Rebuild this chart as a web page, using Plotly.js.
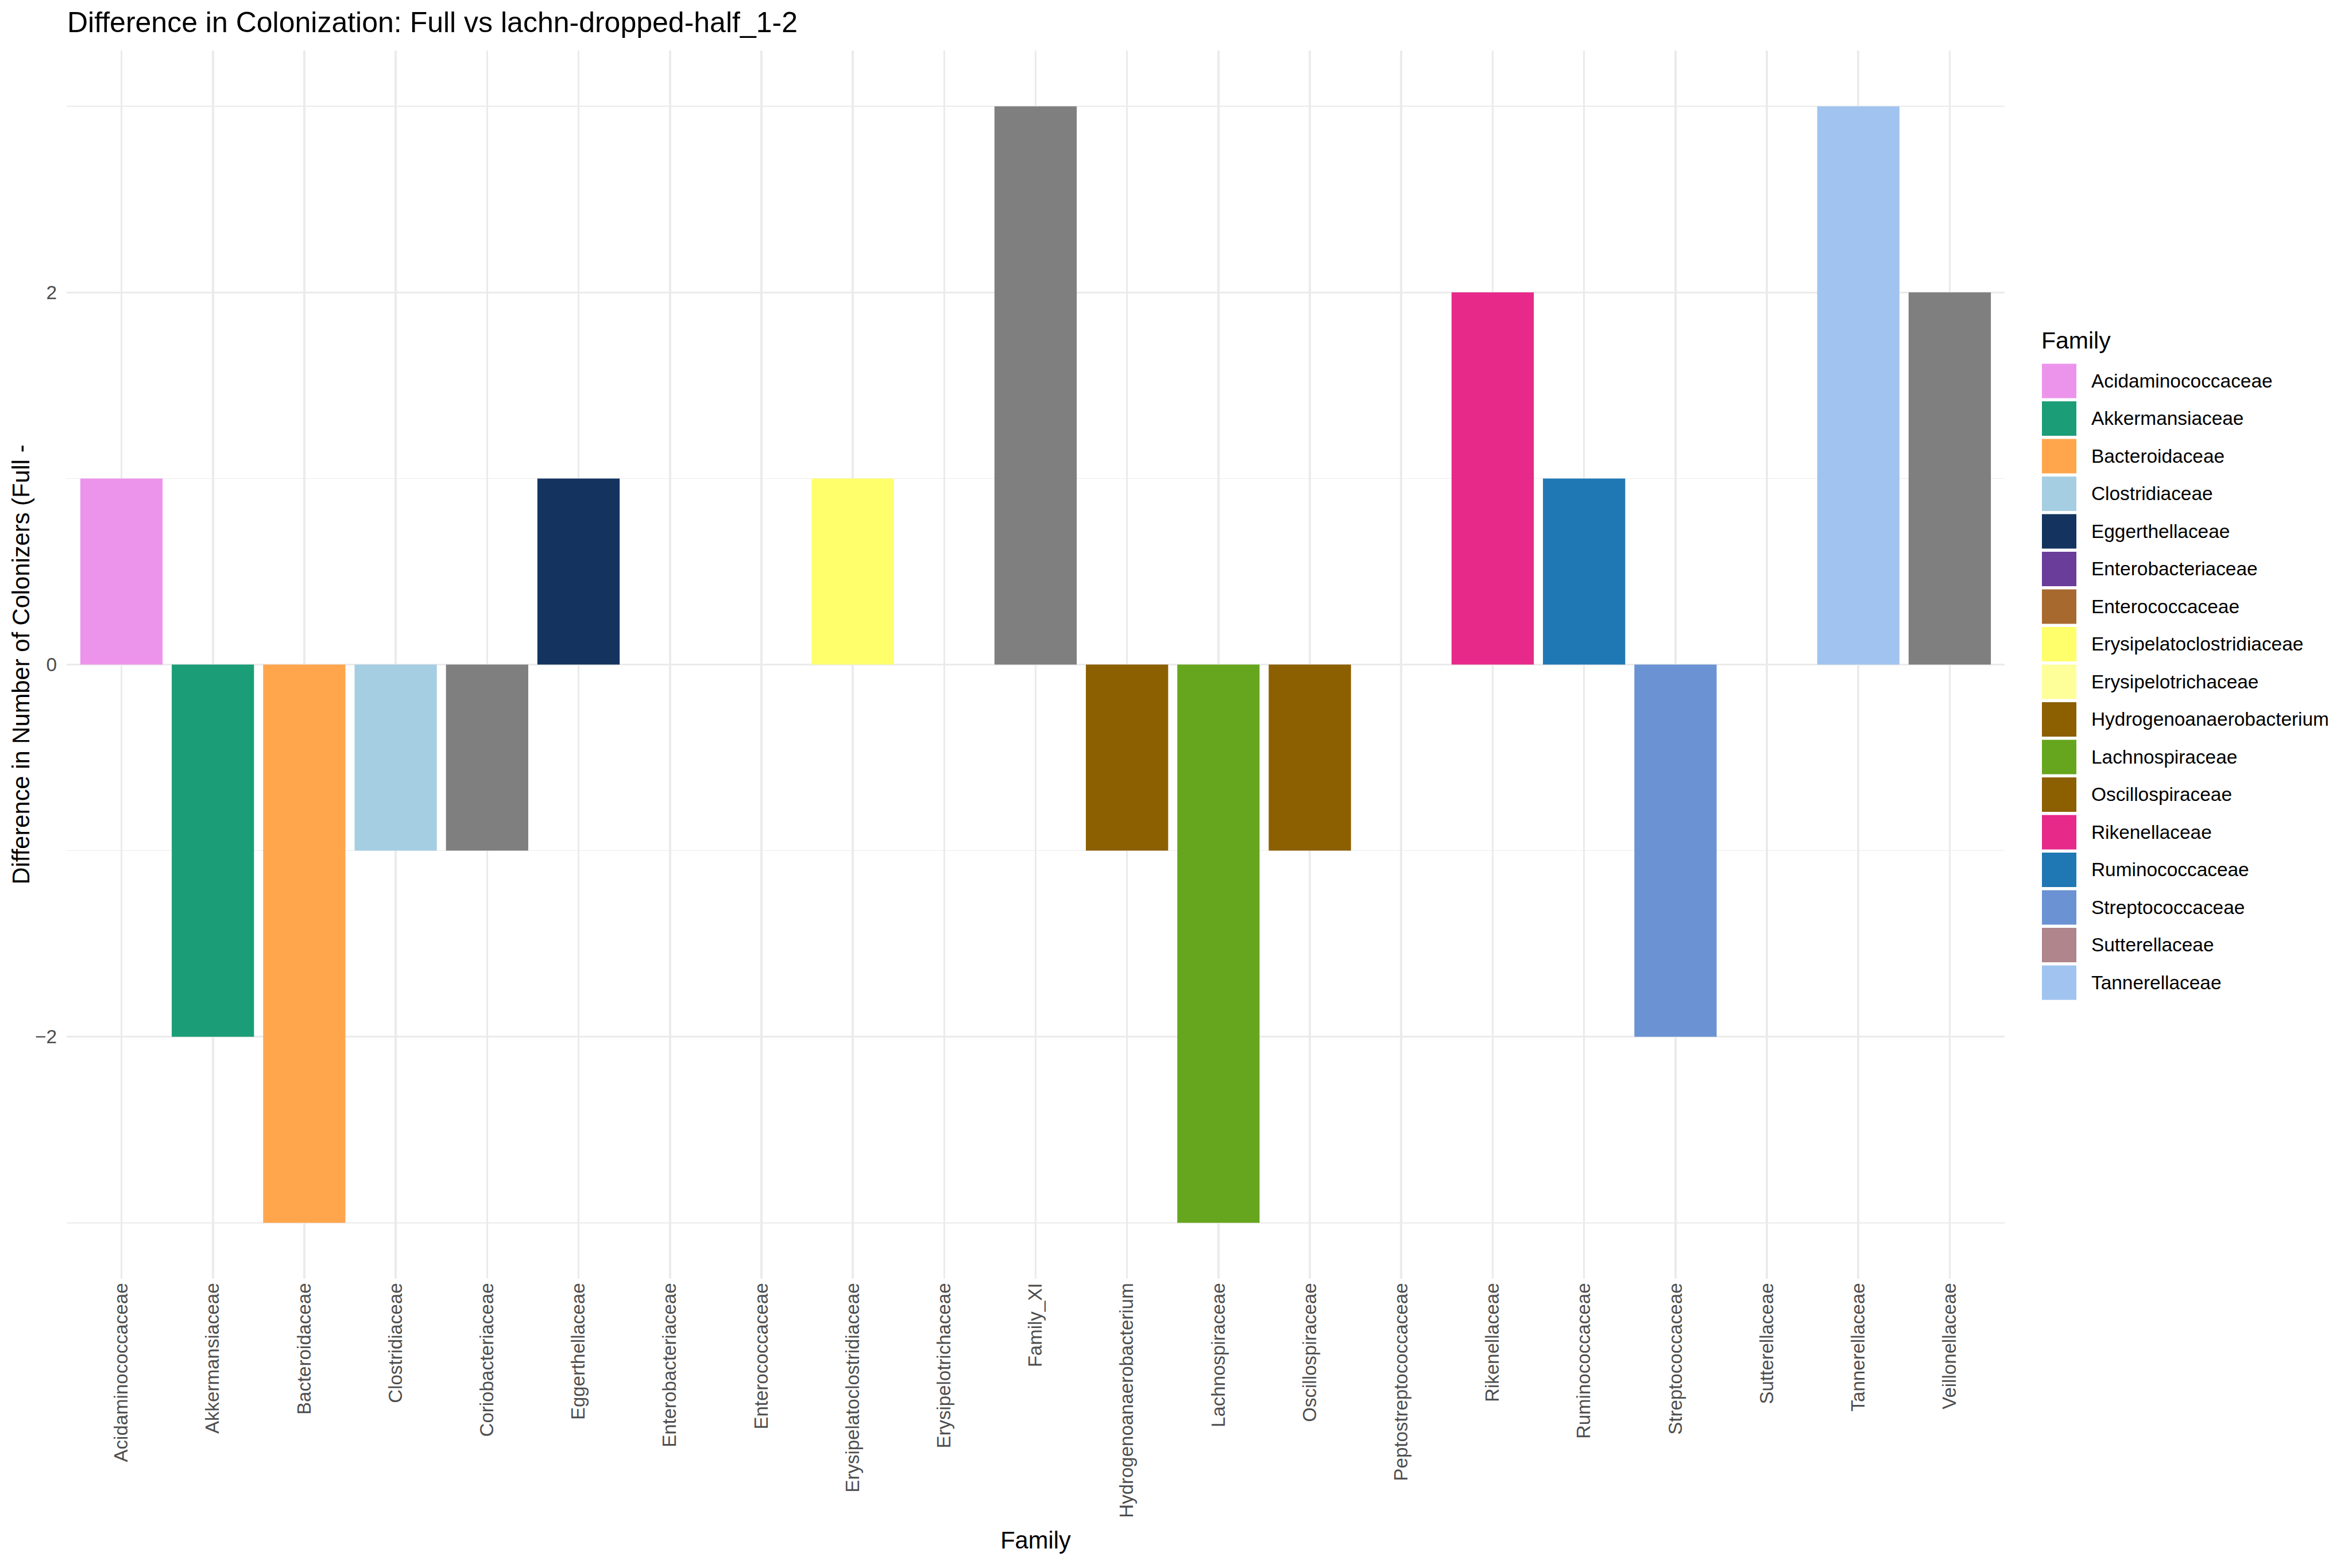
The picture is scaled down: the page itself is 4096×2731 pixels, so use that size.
<!DOCTYPE html>
<html><head><meta charset="utf-8">
<script src="https://cdn.plot.ly/plotly-3.0.1.min.js"></script>
<style>html,body{margin:0;padding:0;background:#fff;overflow:hidden}</style>
</head><body><div id="chart" style="width:4096px;height:2731px"></div>
<script>
// ---- data ----
const families = ["Acidaminococcaceae","Akkermansiaceae","Bacteroidaceae","Clostridiaceae","Coriobacteriaceae","Eggerthellaceae","Enterobacteriaceae","Enterococcaceae","Erysipelatoclostridiaceae","Erysipelotrichaceae","Family_XI","Hydrogenoanaerobacterium","Lachnospiraceae","Oscillospiraceae","Peptostreptococcaceae","Rikenellaceae","Ruminococcaceae","Streptococcaceae","Sutterellaceae","Tannerellaceae","Veillonellaceae"];
const diffValues = [1,-2,-3,-1,-1,1,0,0,1,0,3,-1,-3,-1,0,2,1,-2,0,3,2];
const legendFamilies = ["Acidaminococcaceae","Akkermansiaceae","Bacteroidaceae","Clostridiaceae","Eggerthellaceae","Enterobacteriaceae","Enterococcaceae","Erysipelatoclostridiaceae","Erysipelotrichaceae","Hydrogenoanaerobacterium","Lachnospiraceae","Oscillospiraceae","Rikenellaceae","Ruminococcaceae","Streptococcaceae","Sutterellaceae","Tannerellaceae"];
const legendColors = ["#EC94EC","#1B9E77","#FFA64D","#A6CEE3","#14345F","#6A3D9A","#A8692F","#FFFF6B","#FFFF99","#8C5F00","#66A61E","#8C5F00","#E7298A","#1F78B4","#6B93D4","#B0858C","#A0C4EF"];
const naColor = "#7F7F7F";
const yTickVals = [-2,0,2];
const yTickText = ["\u22122","0","2"];

// ---- layout constants ----
const W = 4096, H = 2731, L = 116, R = 605, T = 88, B = 504;
const FONT = "Liberation Sans, Arial, Helvetica, sans-serif";
const px2x = px => (px - L) / (W - L - R);
const py2y = py => (H - B - py) / (H - T - B);

const colorMap = {};
legendFamilies.forEach((f, i) => colorMap[f] = legendColors[i]);
const barColors = families.map(f => colorMap[f] || naColor);

const trace = {
  type: "bar",
  x: families,
  y: diffValues,
  width: 0.9,
  marker: {color: barColors, line: {width: 0}},
  showlegend: false,
  hoverinfo: "x+y"
};

const shapes = [];
const annotations = [];
// legend title
annotations.push({
  text: "Family", xref: "paper", yref: "paper",
  x: px2x(3553), y: py2y(593), xanchor: "left", yanchor: "middle",
  showarrow: false, font: {family: FONT, size: 41, color: "#000000"}
});
const keyTop0 = 633.4, keyPitch = 65.5, keySize = 60;
legendFamilies.forEach((f, i) => {
  const top = keyTop0 + i * keyPitch;
  shapes.push({
    type: "rect", xref: "paper", yref: "paper",
    x0: px2x(3556), x1: px2x(3556 + keySize),
    y0: py2y(top + keySize), y1: py2y(top),
    fillcolor: legendColors[i], line: {width: 0}, layer: "above"
  });
  annotations.push({
    text: f, xref: "paper", yref: "paper",
    x: px2x(3640), y: py2y(top + keySize / 2), xanchor: "left", yanchor: "middle",
    showarrow: false, font: {family: FONT, size: 33.4, color: "#000000"}
  });
});
// y-axis title, centred on the panel
annotations.push({
  text: "Difference in Number of Colonizers (Full -", xref: "paper", yref: "paper",
  x: px2x(36), y: 0.5, xanchor: "center", yanchor: "middle",
  textangle: -90, showarrow: false, font: {family: FONT, size: 41.7, color: "#000000"}
});

const layout = {
  width: W, height: H,
  margin: {l: L, r: R, t: T, b: B, pad: 0},
  paper_bgcolor: "#ffffff", plot_bgcolor: "#ffffff",
  font: {family: FONT, color: "#4D4D4D"},
  showlegend: false,
  title: {
    text: "Difference in Colonization: Full vs lachn-dropped-half_1-2",
    font: {family: FONT, size: 50, color: "#000000"},
    xref: "container", x: 117 / W, xanchor: "left",
    yref: "container", y: 1 - 38 / H, yanchor: "middle"
  },
  xaxis: {
    type: "category",
    categoryorder: "array", categoryarray: families,
    range: [-0.6, 20.6],
    tickangle: -90,
    tickfont: {family: FONT, size: 33, color: "#4D4D4D"},
    ticks: "",
    showgrid: true, gridcolor: "#EBEBEB", gridwidth: 3.6,
    zeroline: false, showline: false,
    automargin: false,
    title: {text: "Family", font: {family: FONT, size: 41.7, color: "#000000"}, standoff: 25}
  },
  yaxis: {
    range: [-3.3, 3.3],
    tickvals: yTickVals, ticktext: yTickText,
    tickfont: {family: FONT, size: 33.4, color: "#4D4D4D"},
    ticks: "",
    ticklabelstandoff: 16,
    showgrid: true, gridcolor: "#EBEBEB", gridwidth: 3.6,
    minor: {dtick: 1, tick0: 0, showgrid: true, gridcolor: "#EBEBEB", gridwidth: 1.8, ticks: ""},
    zeroline: false, showline: false,
    automargin: false,
    title: {text: ""}
  },
  shapes: shapes,
  annotations: annotations
};

Plotly.newPlot("chart", [trace], layout, {staticPlot: true, displayModeBar: false});
</script>
</body></html>
